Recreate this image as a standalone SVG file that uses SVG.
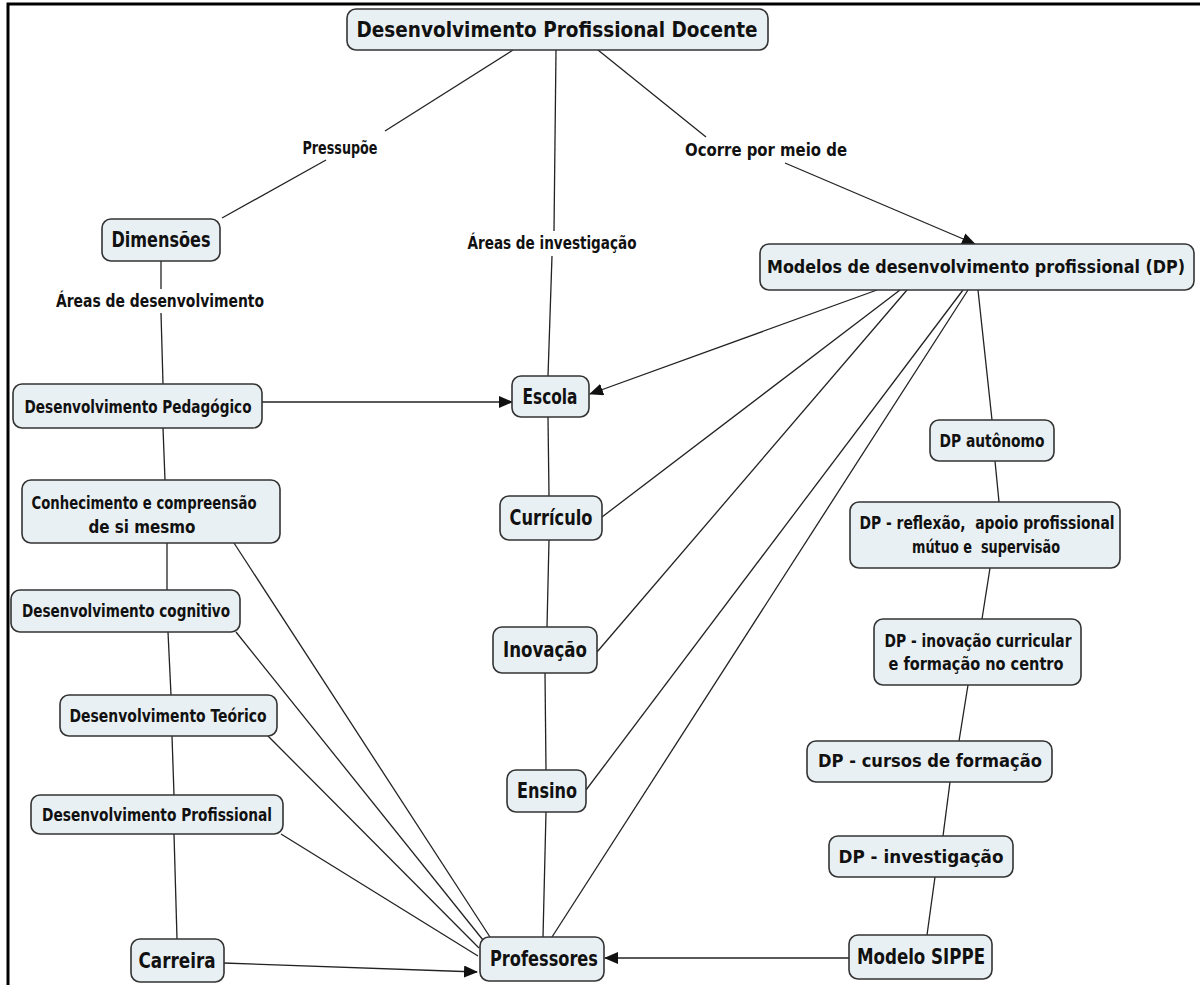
<svg xmlns="http://www.w3.org/2000/svg" width="1200" height="985" viewBox="0 0 1200 985">
  <style>
    .node rect { fill: #e9f0f3; stroke: #333; stroke-width: 1.6; }
    text { font-family: "DejaVu Sans Condensed", "DejaVu Sans", "Liberation Sans", sans-serif; font-weight: bold; fill: #111; text-anchor: middle; white-space: pre; }
    .big { font-size: 21px; }
    .mid { font-size: 18px; }
    .lbl { font-size: 17px; }
    #connectors line { stroke: #222; stroke-width: 1.3; fill: none; }
    .frame { stroke: #000; stroke-width: 3; fill: none; }
  </style>
  <defs>
    <marker id="arrow" viewBox="0 0 14 12" refX="13" refY="6" markerWidth="14" markerHeight="12" markerUnits="userSpaceOnUse" orient="auto">
      <path d="M0,0 L14,6 L0,12 Z" fill="#111"/>
    </marker>
  </defs>
  <rect width="1200" height="985" fill="#fff"/>
  <!-- page frame (top and left edges) -->
  <path class="frame" d="M8,985 V4 H1200"/>

  <g id="connectors">
    <!-- root to Dimensões via "Pressupõe" -->
    <line x1="513" y1="50" x2="385" y2="131"/>
    <line x1="326" y1="160" x2="222" y2="218"/>
    <!-- root to Escola via "Áreas de investigação" -->
    <line x1="556" y1="50" x2="554" y2="231"/>
    <line x1="552" y1="256" x2="548" y2="376"/>
    <!-- root to Modelos via "Ocorre por meio de" -->
    <line x1="598" y1="50" x2="706" y2="137"/>
    <line x1="785" y1="163" x2="975" y2="244" marker-end="url(#arrow)"/>
    <!-- Dimensões chain -->
    <line x1="161" y1="261" x2="161" y2="289"/>
    <line x1="161" y1="313" x2="163" y2="384"/>
    <line x1="163" y1="428" x2="165" y2="480"/>
    <line x1="167" y1="543" x2="167" y2="590"/>
    <line x1="168" y1="632" x2="171" y2="695"/>
    <line x1="172" y1="736" x2="174" y2="795"/>
    <line x1="174" y1="834" x2="177" y2="939"/>
    <!-- into Escola -->
    <line x1="262" y1="402" x2="512" y2="402" marker-end="url(#arrow)"/>
    <line x1="877" y1="290" x2="590" y2="394" marker-end="url(#arrow)"/>
    <!-- central column -->
    <line x1="548" y1="417" x2="549" y2="496"/>
    <line x1="549" y1="540" x2="547" y2="627"/>
    <line x1="545" y1="673" x2="546" y2="770"/>
    <line x1="546" y1="812" x2="543" y2="937"/>
    <!-- Modelos to central concepts -->
    <line x1="900" y1="290" x2="602" y2="517"/>
    <line x1="907" y1="290" x2="597" y2="652"/>
    <line x1="963" y1="290" x2="586" y2="790"/>
    <line x1="968" y1="290" x2="552" y2="937"/>
    <!-- Modelos chain -->
    <line x1="978" y1="290" x2="992" y2="420"/>
    <line x1="995" y1="461" x2="999" y2="502"/>
    <line x1="990" y1="568" x2="982" y2="619"/>
    <line x1="968" y1="685" x2="959" y2="741"/>
    <line x1="950" y1="782" x2="943" y2="836"/>
    <line x1="935" y1="877" x2="927" y2="935"/>
    <!-- left nodes to Professores -->
    <line x1="234" y1="543" x2="490" y2="937"/>
    <line x1="236" y1="632" x2="483" y2="940"/>
    <line x1="268" y1="736" x2="479" y2="948"/>
    <line x1="281" y1="834" x2="478" y2="956"/>
    <!-- arrows into Professores -->
    <line x1="223" y1="963" x2="477" y2="972" marker-end="url(#arrow)"/>
    <line x1="849" y1="958" x2="605" y2="958" marker-end="url(#arrow)"/>
  </g>

  <!-- link labels -->
  <g id="link-labels">
    <text class="lbl" x="340" y="154" textLength="75" lengthAdjust="spacingAndGlyphs">Pressupõe</text>
    <text class="lbl" x="552" y="249" textLength="169" lengthAdjust="spacingAndGlyphs">Áreas de investigação</text>
    <text class="lbl" x="766" y="156" textLength="162" lengthAdjust="spacingAndGlyphs">Ocorre por meio de</text>
    <text class="lbl" x="160" y="307" textLength="208" lengthAdjust="spacingAndGlyphs">Áreas de desenvolvimento</text>
  </g>

  <g id="n-root" class="node">
    <rect x="347" y="9" width="421" height="41" rx="9"/>
    <text class="big" x="557" y="37" textLength="401" lengthAdjust="spacingAndGlyphs">Desenvolvimento Profissional Docente</text>
  </g>
  <g id="n-dimensoes" class="node">
    <rect x="102" y="219" width="118" height="42" rx="9"/>
    <text class="big" x="161" y="247" textLength="99" lengthAdjust="spacingAndGlyphs">Dimensões</text>
  </g>
  <g id="n-modelos" class="node">
    <rect x="760" y="244" width="434" height="46" rx="9"/>
    <text x="976" y="273" font-size="18" textLength="418" lengthAdjust="spacingAndGlyphs">Modelos de desenvolvimento profissional (DP)</text>
  </g>
  <g id="n-pedagogico" class="node">
    <rect x="13" y="384" width="249" height="44" rx="9"/>
    <text class="mid" x="138" y="413" textLength="227" lengthAdjust="spacingAndGlyphs">Desenvolvimento Pedagógico</text>
  </g>
  <g id="n-conhecimento" class="node">
    <rect x="22" y="480" width="258" height="63" rx="9"/>
    <text class="mid" x="144" y="509" textLength="225" lengthAdjust="spacingAndGlyphs">Conhecimento e compreensão</text>
    <text class="mid" x="142" y="533" textLength="107" lengthAdjust="spacingAndGlyphs">de si mesmo</text>
  </g>
  <g id="n-cognitivo" class="node">
    <rect x="11" y="590" width="229" height="42" rx="9"/>
    <text class="mid" x="126" y="617" textLength="208" lengthAdjust="spacingAndGlyphs">Desenvolvimento cognitivo</text>
  </g>
  <g id="n-teorico" class="node">
    <rect x="60" y="695" width="217" height="41" rx="9"/>
    <text class="mid" x="168" y="722" textLength="197" lengthAdjust="spacingAndGlyphs">Desenvolvimento Teórico</text>
  </g>
  <g id="n-profissional" class="node">
    <rect x="31" y="795" width="252" height="39" rx="9"/>
    <text class="mid" x="157" y="821" textLength="230" lengthAdjust="spacingAndGlyphs">Desenvolvimento Profissional</text>
  </g>
  <g id="n-carreira" class="node">
    <rect x="131" y="939" width="93" height="43" rx="9"/>
    <text class="big" x="177" y="968" textLength="77" lengthAdjust="spacingAndGlyphs">Carreira</text>
  </g>
  <g id="n-professores" class="node">
    <rect x="480" y="937" width="124" height="44" rx="9"/>
    <text class="big" x="544" y="966" textLength="108" lengthAdjust="spacingAndGlyphs">Professores</text>
  </g>
  <g id="n-sippe" class="node">
    <rect x="849" y="935" width="143" height="44" rx="9"/>
    <text class="big" x="921" y="964" textLength="128" lengthAdjust="spacingAndGlyphs">Modelo SIPPE</text>
  </g>
  <g id="n-escola" class="node">
    <rect x="512" y="376" width="77" height="41" rx="9"/>
    <text class="big" x="550" y="404" textLength="55" lengthAdjust="spacingAndGlyphs">Escola</text>
  </g>
  <g id="n-curriculo" class="node">
    <rect x="500" y="496" width="102" height="44" rx="9"/>
    <text class="big" x="551" y="525" textLength="83" lengthAdjust="spacingAndGlyphs">Currículo</text>
  </g>
  <g id="n-inovacao" class="node">
    <rect x="493" y="627" width="104" height="46" rx="9"/>
    <text class="big" x="545" y="657" textLength="84" lengthAdjust="spacingAndGlyphs">Inovação</text>
  </g>
  <g id="n-ensino" class="node">
    <rect x="507" y="770" width="79" height="42" rx="9"/>
    <text class="big" x="547" y="798" textLength="60" lengthAdjust="spacingAndGlyphs">Ensino</text>
  </g>
  <g id="n-autonomo" class="node">
    <rect x="930" y="420" width="124" height="41" rx="9"/>
    <text class="mid" x="992" y="447" textLength="105" lengthAdjust="spacingAndGlyphs">DP autônomo</text>
  </g>
  <g id="n-reflexao" class="node">
    <rect x="850" y="502" width="270" height="66" rx="9"/>
    <text class="mid" x="987" y="529" textLength="255" lengthAdjust="spacingAndGlyphs">DP - reflexão,  apoio profissional</text>
    <text class="mid" x="986" y="553" textLength="148" lengthAdjust="spacingAndGlyphs">mútuo e  supervisão</text>
  </g>
  <g id="n-inov-curricular" class="node">
    <rect x="874" y="619" width="207" height="66" rx="9"/>
    <text class="mid" x="978" y="647" textLength="187" lengthAdjust="spacingAndGlyphs">DP - inovação curricular</text>
    <text class="mid" x="976" y="670" textLength="175" lengthAdjust="spacingAndGlyphs">e formação no centro</text>
  </g>
  <g id="n-cursos" class="node">
    <rect x="807" y="741" width="245" height="41" rx="9"/>
    <text class="mid" x="930" y="767" textLength="224" lengthAdjust="spacingAndGlyphs">DP - cursos de formação</text>
  </g>
  <g id="n-investigacao" class="node">
    <rect x="829" y="836" width="184" height="41" rx="9"/>
    <text class="mid" x="921" y="863" textLength="165" lengthAdjust="spacingAndGlyphs">DP - investigação</text>
  </g>
</svg>
